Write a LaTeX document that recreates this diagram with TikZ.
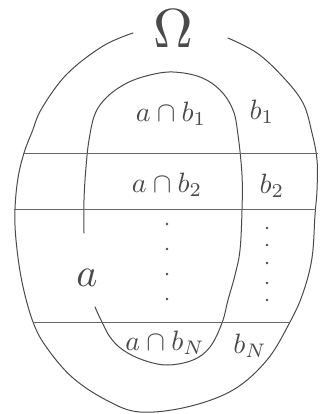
\documentclass[tikz,border=0pt]{standalone}
\usepackage{graphicx}
\definecolor{ink}{HTML}{4A4A4A}
\definecolor{rule}{HTML}{666666}
\newcommand{\bigtxt}[2]{\scalebox{#1}{#2}}
\tikzset{
  pen/.style={draw=ink, line width=1.0pt, line cap=round, line join=round},
  rowline/.style={draw=rule, line width=0.9pt},
  lbl/.style={text=ink, inner sep=0pt},
  dotmark/.style={fill=ink}
}
\begin{document}
\begin{tikzpicture}[x=1pt,y=-1pt]
\useasboundingbox (0,0) rectangle (329,414);
% outer set Omega (open at top)
\draw[pen] plot[smooth, tension=0.6] coordinates {
 (228,38) (257,53) (283,77) (303,103) (312,133) (317,160) (317,190) (315,215)
 (312,258) (303,293) (290,322) (267,360) (233,390) (187,407) (140,412)
 (108,401) (73,378) (47,348) (33,322) (22,282) (16,240) (15,209) (18,178)
 (24,153) (32,132) (42,108) (67,74) (103,46) (133,33)};
% set a
\draw[pen] plot[smooth, tension=0.6] coordinates {
 (84,233) (84,200) (86,167) (89,140) (95,114) (107,97) (127,83) (150,75)
 (173,72) (200,77) (220,90) (233,110) (238,135) (242,175) (242,210)
 (240,250) (235,275) (228,300) (222,323) (210,347) (193,360) (167,365)
 (143,360) (123,350) (110,337) (100,318) (95,307)};
% partition lines
\coordinate (l1a) at (23,153); \coordinate (l1b) at (318,153);
\coordinate (l2a) at (14,209); \coordinate (l2b) at (316,209);
\coordinate (l3a) at (33,322); \coordinate (l3b) at (290,322);
\draw[rowline] (l1a) -- (l1b);
\draw[rowline] (l2a) -- (l2b);
\draw[rowline] (l3a) -- (l3b);
% labels
\node[lbl] (om) at (173,29) {\bigtxt{5.5}{$\Omega$}};
\node[lbl] (ab1) at (171,114) {\bigtxt{2.8}{$a\cap b_1$}};
\node[lbl] (b1) at (262,112) {\bigtxt{2.8}{$b_1$}};
\node[lbl] (ab2) at (167,185) {\bigtxt{2.8}{$a\cap b_2$}};
\node[lbl] (b2) at (272,186) {\bigtxt{2.8}{$b_2$}};
\node[lbl] (a) at (87,278) {\bigtxt{4}{$a$}};
\node[lbl] (abN) at (165,343) {\bigtxt{2.8}{$a\cap b_N$}};
\node[lbl] (bN) at (250,346) {\bigtxt{2.8}{$b_N$}};
% vertical dots
\foreach \yy in {224,249,274,299} \fill[dotmark] (167,\yy) circle (1.4);
\foreach \yy in {228,245,263,283,300} \fill[dotmark] (267,\yy) circle (1.4);
\end{tikzpicture}
\end{document}
